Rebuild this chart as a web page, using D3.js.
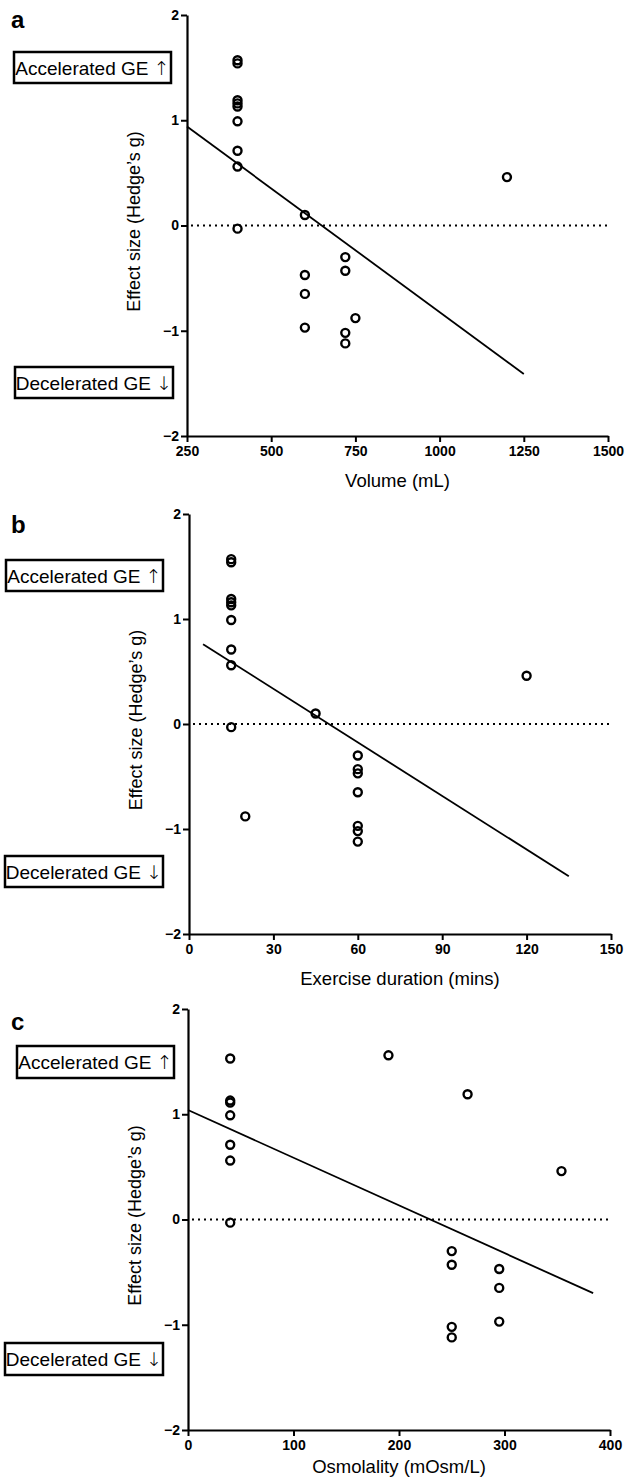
<!DOCTYPE html>
<html>
<head>
<meta charset="utf-8">
<script src="https://cdn.jsdelivr.net/npm/d3@7"></script>
<style>
  body { margin: 0; background: #fff; }
  svg { display: block; font-family: "Liberation Sans", Arial, Helvetica, sans-serif; }
</style>
</head>
<body>
<svg id="fig" width="625" height="1483"></svg>
<script>
// ---- data ----
const effectTicks = [-2, -1, 0, 1, 2];

// panel a: volume
const volumeTicks = [250, 500, 750, 1000, 1250, 1500];
const volumeX = [400, 400, 400, 400, 400, 400, 400, 400, 400,
                 600, 600, 600, 600, 720, 720, 720, 720, 750, 1200];
const volumeG = [1.57, 1.54, 1.19, 1.16, 1.13, 0.99, 0.71, 0.56, -0.03,
                 0.10, -0.47, -0.65, -0.97, -0.30, -0.43, -1.02, -1.12, -0.88, 0.46];
const volumeFitX = [250, 1250];
const volumeFitY = [0.94, -1.41];

// panel b: exercise duration
const durationTicks = [0, 30, 60, 90, 120, 150];
const durationX = [15, 15, 15, 15, 15, 15, 15, 15, 15,
                   20, 45, 60, 60, 60, 60, 60, 60, 60, 120];
const durationG = [1.57, 1.54, 1.19, 1.16, 1.13, 0.99, 0.71, 0.56, -0.03,
                   -0.88, 0.10, -0.30, -0.43, -0.47, -0.65, -0.97, -1.02, -1.12, 0.46];
const durationFitX = [5, 135];
const durationFitY = [0.76, -1.45];

// panel c: osmolality
const osmoTicks = [0, 100, 200, 300, 400];
const osmoX = [40, 40, 40, 40, 40, 40, 40,
               190, 265, 250, 250, 250, 250, 295, 295, 295, 354];
const osmoG = [1.53, 1.13, 1.11, 0.99, 0.71, 0.56, -0.03,
               1.56, 1.19, -0.30, -0.43, -1.02, -1.12, -0.47, -0.65, -0.97, 0.46];
const osmoFitX = [0, 384];
const osmoFitY = [1.04, -0.70];

const yTitle = "Effect size (Hedge\u2019s g)";
const upLabel = ["Accelerated GE ", "\u2191"];
const downLabel = ["Decelerated GE ", "\u2193"];

// ---- layout of the three panels ----
const panels = [
  { letter: 'a', letterY: 28, x: volumeX, y: volumeG, fitX: volumeFitX, fitY: volumeFitY,
    ticks: volumeTicks, domain: [250, 1500], title: 'Volume (mL)',
    left: 187, right: 608, top: 15, bottom: 436, titleOffset: 51,
    upBox: [14, 52, 157, 31], downBox: [15, 367, 158, 31] },
  { letter: 'b', letterY: 533, x: durationX, y: durationG, fitX: durationFitX, fitY: durationFitY,
    ticks: durationTicks, domain: [0, 150], title: 'Exercise duration (mins)',
    left: 189, right: 611, top: 514, bottom: 934, titleOffset: 51,
    upBox: [6, 560, 157, 31], downBox: [5, 856, 158, 31] },
  { letter: 'c', letterY: 1030, x: osmoX, y: osmoG, fitX: osmoFitX, fitY: osmoFitY,
    ticks: osmoTicks, domain: [0, 400], title: 'Osmolality (mOsm/L)',
    left: 188, right: 610, top: 1009, bottom: 1430, titleOffset: 43,
    upBox: [17, 1046, 157, 32], downBox: [5, 1343, 158, 32] },
];

const svg = d3.select('#fig');
svg.append('rect').attr('width', 625).attr('height', 1483).attr('fill', '#fff');

const drawPanel = (p) => {
  const g = svg.append('g');

  const xScale = d3.scaleLinear().domain(p.domain).range([p.left, p.right]);
  const yScale = d3.scaleLinear().domain([-2, 2]).range([p.bottom, p.top]);

  // zero reference line
  g.append('line')
    .attr('x1', xScale(p.domain[0]) + 4)
    .attr('x2', xScale(p.domain[1]))
    .attr('y1', yScale(0))
    .attr('y2', yScale(0))
    .attr('stroke', '#000')
    .attr('stroke-width', 2)
    .attr('stroke-dasharray', '2,4');

  // axes
  const xAxis = g.append('g')
    .attr('transform', `translate(0,${p.bottom})`)
    .call(d3.axisBottom(xScale).tickValues(p.ticks).tickFormat(d3.format('d'))
      .tickSize(6).tickSizeOuter(0).tickPadding(4));
  const yAxis = g.append('g')
    .attr('transform', `translate(${p.left},0)`)
    .call(d3.axisLeft(yScale).tickValues(effectTicks).tickFormat(d3.format('d'))
      .tickSize(6).tickSizeOuter(0).tickPadding(2));

  [xAxis, yAxis].forEach((ax) => {
    ax.select('.domain').attr('stroke-width', 2.2);
    ax.selectAll('.tick line').attr('stroke-width', 2);
    ax.selectAll('.tick text')
      .attr('font-size', 14)
      .attr('font-weight', 'bold')
      .attr('font-family', '"Liberation Sans", Arial, sans-serif')
      .attr('fill', '#000');
  });

  // regression line
  const fit = p.fitX.map((v, i) => [v, p.fitY[i]]);
  g.append('path')
    .datum(fit)
    .attr('d', d3.line().x((d) => xScale(d[0])).y((d) => yScale(d[1])))
    .attr('stroke', '#000')
    .attr('stroke-width', 1.8)
    .attr('fill', 'none');

  // points
  g.selectAll('circle.pt')
    .data(p.x.map((v, i) => [v, p.y[i]]))
    .enter()
    .append('circle')
    .attr('class', 'pt')
    .attr('cx', (d) => xScale(d[0]))
    .attr('cy', (d) => yScale(d[1]))
    .attr('r', 4)
    .attr('fill', 'none')
    .attr('stroke', '#000')
    .attr('stroke-width', 2.4);

  // axis titles
  g.append('text')
    .attr('x', (p.left + p.right) / 2)
    .attr('y', p.bottom + p.titleOffset)
    .attr('text-anchor', 'middle')
    .attr('font-size', 18.5)
    .text(p.title);

  g.append('text')
    .attr('transform', `translate(${p.left - 47},${(p.top + p.bottom) / 2 - 4}) rotate(-90)`)
    .attr('text-anchor', 'middle')
    .attr('font-size', 18)
    .text(yTitle);

  // panel letter
  g.append('text')
    .attr('x', 11)
    .attr('y', p.letterY)
    .attr('font-size', 24)
    .attr('font-weight', 'bold')
    .text(p.letter);

  // direction boxes
  [[p.upBox, upLabel], [p.downBox, downLabel]].forEach(([b, label]) => {
    g.append('rect')
      .attr('x', b[0]).attr('y', b[1])
      .attr('width', b[2]).attr('height', b[3])
      .attr('fill', '#fff')
      .attr('stroke', '#000')
      .attr('stroke-width', 2.5);
    const t = g.append('text')
      .attr('x', b[0] + b[2] / 2)
      .attr('y', b[1] + b[3] / 2 + 7)
      .attr('text-anchor', 'middle')
      .attr('font-size', 19)
      .attr('fill', '#000');
    t.append('tspan').text(label[0]);
    t.append('tspan')
      .attr('font-family', '"DejaVu Sans", sans-serif')
      .attr('font-weight', 200)
      .attr('font-size', 19)
      .text(label[1]);
  });
};

panels.forEach(drawPanel);
</script>
</body>
</html>
